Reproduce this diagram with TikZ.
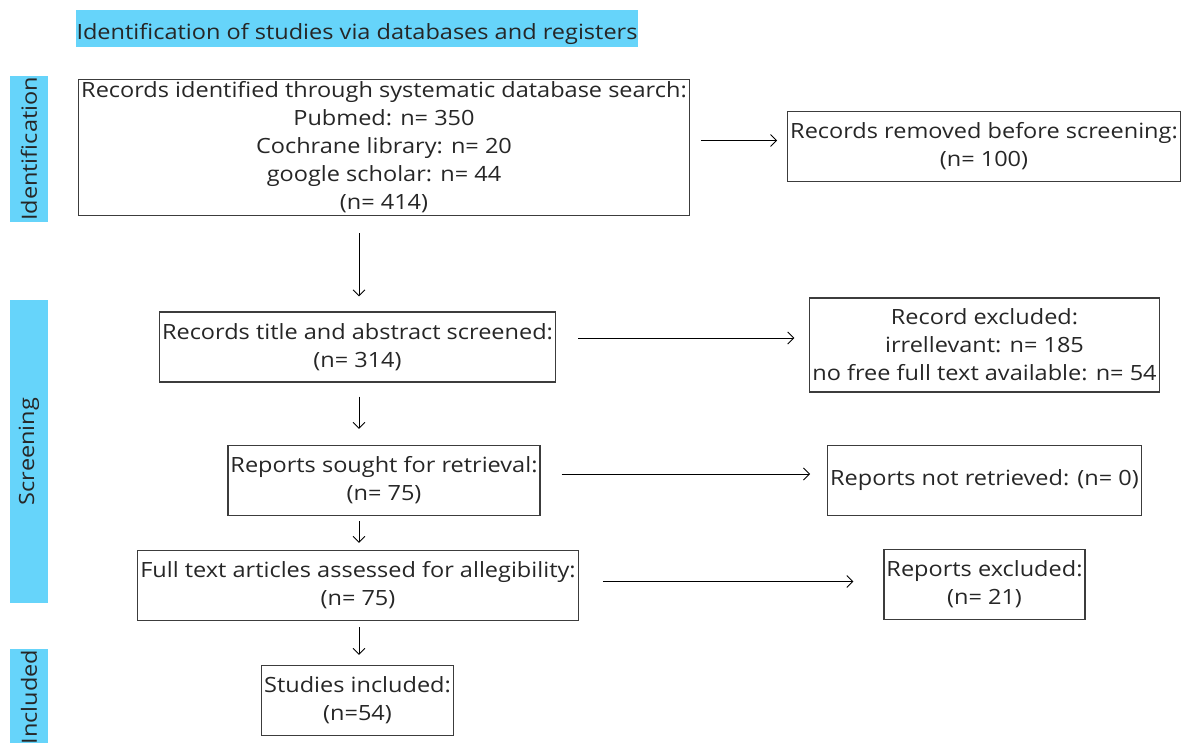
\documentclass[tikz,border=0pt]{standalone}
\usepackage{fontspec}
\setmainfont{Open Sans}[FakeStretch=1.12]
\usetikzlibrary{arrows.meta}
\definecolor{phaseblue}{RGB}{102,212,250}
\definecolor{boxline}{RGB}{60,60,60}
\tikzset{
    box/.style={draw=boxline, line width=1.1pt, align=center, inner sep=2.5pt, minimum height=70pt},
    phase/.style={fill=phaseblue, rotate=90, minimum height=38pt, inner sep=0pt},
}
\begin{document}
\begin{tikzpicture}[x=1pt, y=-1pt, >={Straight Barb[length=6pt,width=12pt]}, font=\fontsize{21}{28}\selectfont, text=black!85]
        \useasboundingbox (0,0) rectangle (1186,742);

        \node[fill=phaseblue, minimum width=562pt, minimum height=37pt, inner sep=0pt, text height=22pt, text depth=0pt] (title) at (357,28.5) {Identification of studies via databases and registers};

        \node[phase, minimum width=146pt] (idbar) at (29,149) {Identification};
        \node[phase, minimum width=303pt] (scrbar) at (29,451.5) {Screening};
        \node[phase, minimum width=96pt] (incbar) at (29,697) {Included};

        \node[box] (ids) at (384,147.5) {Records identified through systematic database search:\\Pubmed: n= 350\\Cochrane library: n= 20\\google scholar: n= 44\\(n= 414)};
        \node[box] (removed) at (984,146.5) {Records removed before screening:\\(n= 100)};
        \node[box] (screened) at (357.5,347) {Records title and abstract screened:\\(n= 314)};
        \node[box, minimum height=94pt] (excluded) at (984.5,345) {Record excluded:\\irrellevant: n= 185\\no free full text available: n= 54};
        \node[box] (sought) at (384,480.5) {Reports sought for retrieval:\\(n= 75)};
        \node[box] (notret) at (984.5,480.5) {Reports not retrieved: (n= 0)};
        \node[box] (full) at (358,585.5) {Full text articles assessed for allegibility:\\(n= 75)};
        \node[box] (repexcl) at (984.5,584.5) {Reports excluded:\\(n= 21)};
        \node[box] (incl) at (357.5,700.5) {Studies included:\\(n=54)};

        \coordinate (col) at (359,0);

        \draw[->, line width=.9pt, shorten <=11pt, shorten >=10pt]([yshift=7pt]ids.east)--([yshift=6pt]removed.west);
        \draw[->, line width=.9pt, shorten <=17pt, shorten >=15pt](ids.south -| col)--(screened.north -| col);
        \draw[->, line width=.9pt, shorten <=22pt, shorten >=15pt]([yshift=9pt]screened.east)--([yshift=7pt]excluded.west);
        \draw[->, line width=.9pt, shorten <=14pt, shorten >=16pt](screened.south -| col)--(sought.north -| col);
        \draw[->, line width=.9pt, shorten <=21pt, shorten >=17pt]([yshift=6.5pt]sought.east)--([yshift=6.5pt]notret.west);
        \draw[->, line width=.9pt, shorten <=5pt, shorten >=7pt](sought.south -| col)--(full.north -| col);
        \draw[->, line width=.9pt, shorten <=24pt, shorten >=30pt]([yshift=4pt]full.east)--([yshift=3pt]repexcl.west);
        \draw[->, line width=.9pt, shorten <=6pt, shorten >=10pt](full.south -| col)--(incl.north -| col);
    \end{tikzpicture}
\end{document}
